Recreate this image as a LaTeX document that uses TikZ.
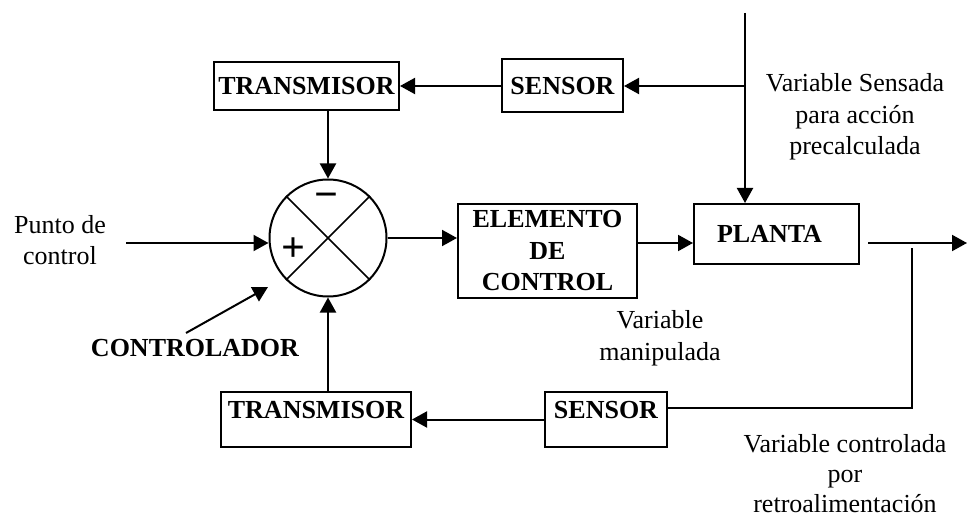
\documentclass[tikz,border=0pt]{standalone}
\usepackage{fontspec}
\setmainfont{Liberation Serif}
\usetikzlibrary{arrows.meta}
\begin{document}
\begin{tikzpicture}[x=0.5pt,y=-0.5pt,
 every node/.style={font=\fontsize{13}{15.75}\selectfont},
 box/.style={draw,line width=1pt,inner sep=0pt,font=\fontsize{13}{15.75}\selectfont\bfseries},
 arr/.style={line width=1pt,-{Triangle[length=7.5pt,width=8pt]}},
 fbline/.style={line width=0.6pt},
 lbl/.style={align=center,inner sep=0pt},
 sign/.style={font=\fontsize{21}{21}\selectfont\bfseries,inner sep=0pt}]
\useasboundingbox (0,0) rectangle (968,518);

% upper feedforward path
\node[box,minimum width=92.5pt,minimum height=24pt] (T1) at (306.5,86) {TRANSMISOR};
\node[box,minimum width=60.5pt,minimum height=26.5pt] (S1) at (562.5,86) {SENSOR};

% summing junction
\node[draw,circle,line width=1pt,minimum size=58.5pt,inner sep=0pt] (C) at (328,238) {};
\draw[line width=0.75pt] (C.45) -- (C.225) (C.135) -- (C.-45);
\node[sign] (minus) at (326,201) {−};
\node[sign] (plus) at (293,250) {+};

% main path
\coordinate (in) at (126,243);
\node[lbl] (pc) at (60,240) {Punto de\\control};
\node[box,align=center,minimum width=89.5pt,minimum height=47pt] (E) at (547.5,251) {ELEMENTO\\DE\\CONTROL};
\node[box,minimum width=82.5pt,minimum height=30pt] (P) at (776.5,234) {PLANTA\hspace*{7pt}};
\coordinate (top) at (745,13);
\coordinate (out) at (967,243);
\coordinate (ps) at ([xshift=4pt]P.east);

\draw[arr] (in) -- (in -| C.west);
\draw[arr] (C.east) -- (C.east -| E.west);
\draw[arr] (E.east |- in) -- (P.west |- in);
\draw[arr] (ps |- out) -- (out);
\draw[arr] (top) -- (top |- P.north);
\draw[arr] (top |- S1.east) -- (S1.east);
\draw[arr] (S1.west) -- (T1.east);
\draw[arr] (C.north |- T1.south) -- (C.north);

% lower feedback path
\node[box,minimum width=95pt,text height=13.3pt,text depth=14.2pt] (T2) at (316,419.5) {TRANSMISOR};
\node[box,minimum width=61pt,text height=13.3pt,text depth=14.2pt] (S2) at (606,419.5) {SENSOR};
\coordinate (fb) at (912,248);
\coordinate (fbc) at (912,408);
\draw[fbline] (fb) -- (fbc) -- (fbc -| S2.east);
\draw[arr] (S2.west) -- (S2.west -| T2.east);
\draw[arr] (C.south |- T2.north) -- (C.south);

% controller label
\node[font=\fontsize{13}{15.75}\selectfont\bfseries] (ctl) at (195,348) {CONTROLADOR};
\coordinate (ca) at (186,333);
\coordinate (cb) at (268,287);
\draw[arr] (ca) -- (cb);

% labels
\node[lbl] (vs) at (855,117) {Variable Sensada\\para acción\\precalculada};
\node[lbl] (vm) at (660,338) {Variable\\manipulada};
\node[lbl,font=\fontsize{13}{15}\selectfont] (vc) at (845,474) {Variable controlada\\por\\retroalimentación};
\end{tikzpicture}
\end{document}
